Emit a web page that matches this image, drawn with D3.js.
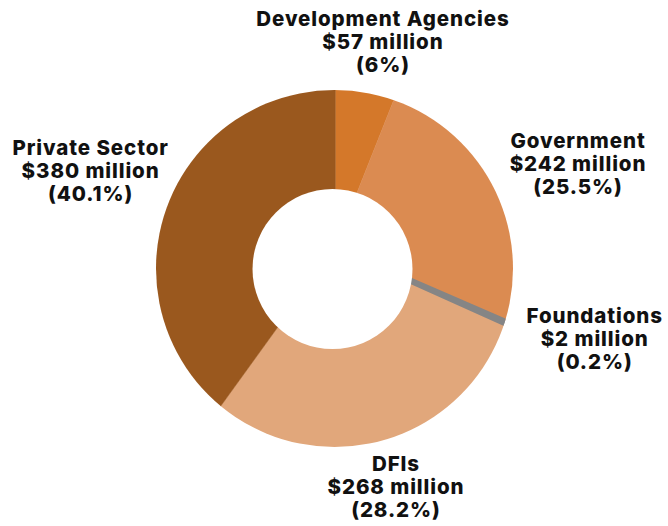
<!DOCTYPE html>
<html>
<head>
<meta charset="utf-8">
<script src="https://cdn.jsdelivr.net/npm/d3@7"></script>
<style>
  html, body { margin: 0; padding: 0; background: #fff; }
  svg text { font-family: Inter, "Open Sans", sans-serif; font-weight: 800; fill: #111; letter-spacing: 0.9px; }
</style>
</head>
<body>
<svg class="chart"></svg>
<script>
// funding by source, $ million
var sources = ["Development Agencies", "Government", "Foundations", "DFIs", "Private Sector"];
var amounts = [57, 242, 2, 268, 380];
var shares = ["6%", "25.5%", "0.2%", "28.2%", "40.1%"];
var colors = ["#D4782A", "#DB8B51", "#858585", "#E1A77B", "#9A581E"];

(function () {
    'use strict';
    var width = 668, height = 526;

    var svg = d3.select(".chart")
        .attr("width", width)
        .attr("height", height);

    // wedges meet a bit above the ring centre, ring is clipped round the circle
    var pieC = {x: 335.3, y: 247.5},
        ringC = {x: 334.5, y: 268.5},
        holeC = {x: 332.5, y: 269},
        outerR = 178.5,
        innerR = 80;

    var pie = d3.pie().sort(null).value(function(d) { return d; });
    var arcs = pie(amounts);

    var arc = d3.arc().innerRadius(0).outerRadius(215);

    svg.append("defs").append("clipPath")
        .attr("id", "ring")
        .append("circle")
        .attr("cx", ringC.x)
        .attr("cy", ringC.y)
        .attr("r", outerR);

    var g = svg.append("g").attr("clip-path", "url(#ring)")
        .append("g")
        .attr("transform", "translate(" + pieC.x + "," + pieC.y + ")");

    g.selectAll("path").data(arcs).enter().append("path")
        .attr("d", arc)
        .attr("fill", function(d, i) { return colors[i]; })
        .attr("stroke", function(d, i) { return colors[i]; })
        .attr("stroke-width", function(d, i) { return amounts[i] < 10 ? 5 : 0.5; })
        .filter(function(d, i) { return amounts[i] < 10; })
        .raise();

    svg.append("circle")
        .attr("cx", holeC.x)
        .attr("cy", holeC.y)
        .attr("r", innerR)
        .attr("fill", "#fff");

    // labels
    var labelR = 254,
        lineH = 23,
        nudge = [[0, 51], [8, 21], [27, -4.5], [-5, 1], [-3, 9]];

    var labels = svg.append("g").selectAll("text").data(arcs).enter().append("text")
        .attr("text-anchor", "middle")
        .style("font-size", "20.5px")
        .attr("transform", function(d, i) {
            var a = (d.startAngle + d.endAngle) / 2;
            var x = pieC.x + labelR * Math.sin(a) + nudge[i][0];
            var y = pieC.y - labelR * Math.cos(a) + nudge[i][1];
            return "translate(" + x + "," + y + ")";
        });

    labels.each(function(d, i) {
        var t = d3.select(this);
        var lines = [sources[i], "$" + amounts[i] + " million", "(" + shares[i] + ")"];
        lines.forEach(function(s, k) {
            t.append("tspan").attr("x", 0).attr("y", (k - 1) * lineH).text(s);
        });
    });
})();
</script>
</body>
</html>
